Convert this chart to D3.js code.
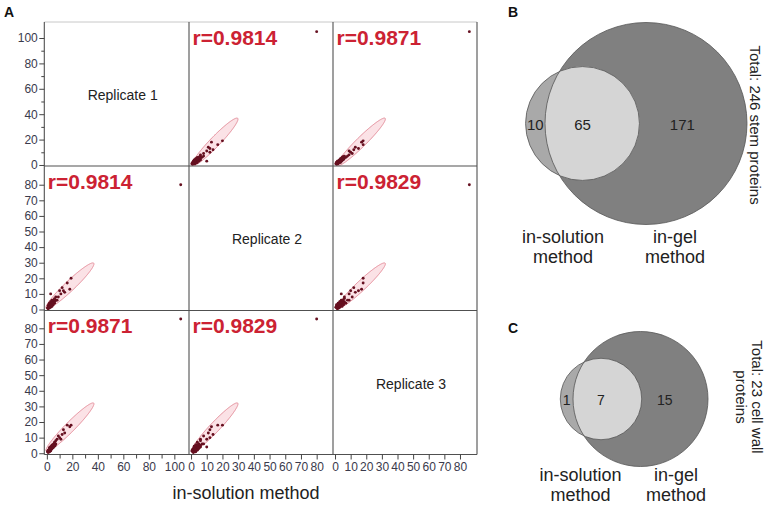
<!DOCTYPE html>
<html><head><meta charset="utf-8">
<script src="https://cdn.jsdelivr.net/npm/d3@7"></script>
<style>body{margin:0;background:#fff;} svg{display:block;font-family:"Liberation Sans",Arial,sans-serif;}</style>
</head><body><svg id="c" width="767" height="516"></svg>
<script>
// ---------- DATA ----------
const variables = ["Replicate 1", "Replicate 2", "Replicate 3"];
const rep1 = [105, 19, 16, 18, 3, 12, 14, 10, 9, 11, 7, 6, 5, 4, 3, 2, 2, 1, 1.5, 2.5, 3.5, 4.5, 5.5, 6.5, 1, 2, 3, 4, 5, 2, 3, 1, 2, 4, 3, 6, 8, 5, 2, 1, 3, 4, 0.5, 1.5, 2.5, 6, 4, 3.5, 5, 2, 4.5, 7, 13];
const rep2 = [80, 20, 17, 13, 10, 14, 11, 12, 8, 10, 6, 7, 4, 5, 3, 2, 3, 1, 2, 1.5, 4, 3, 5, 5.5, 2.5, 1, 2, 4.5, 6, 4, 1.5, 1.5, 2.5, 3.5, 5, 4, 6, 3, 3.5, 0.5, 2.5, 2, 1, 3, 2, 5, 6, 2.5, 4.5, 1.5, 4, 8, 12];
const rep3 = [86, 18, 18, 17, 4, 12, 13, 10, 11, 9, 8, 6, 5, 3, 4, 2, 1, 2, 1.5, 3, 2.5, 4, 6, 5, 1, 2.5, 3, 5, 4, 2, 2, 0.5, 3.5, 3, 3.5, 7, 9, 5.5, 2, 1.5, 1.5, 4.5, 1, 2, 2.5, 4.5, 5, 3, 3.5, 1, 5.5, 6, 15];
const correlations = [[1, 0.9814, 0.9871], [0.9814, 1, 0.9829], [0.9871, 0.9829, 1]];
const ellipseMeans = [18.1, 15.2, 16.7];
const ellipseSDs = [7.7, 6.0, 6.35];
const ellipseShapeR = [[1, 0.955, 0.96], [0.955, 1, 0.958], [0.96, 0.958, 1]];
const xDomains = [[-2, 111.5], [-1.3, 90.4], [-1.3, 90.9]];
const yDomains = [[-0.8, 112.6], [-0.64, 92], [-0.8, 91.4]];
const majorTicks = [[0, 20, 40, 60, 80, 100], [0, 10, 20, 30, 40, 50, 60, 70, 80], [0, 10, 20, 30, 40, 50, 60, 70, 80]];
const minorTicks = [[10, 30, 50, 70, 90], [], []];
const xAxisTitle = "in-solution method";

const vennSetNames = [["in-solution", "method"], ["in-gel", "method"]];
const vennBCounts = [10, 65, 171];   // in-solution only, both, in-gel only
const vennCCounts = [1, 7, 15];
const vennBTotal = ["Total: 246 stem proteins"];
const vennCTotal = ["Total: 23 cell wall", "proteins"];
const panelLetters = ["A", "B", "C"];

// ---------- LAYOUT ----------
const svg = d3.select("#c");
const colX = [44.3, 189, 333, 477];
const rowY = [22, 166, 310.5, 454.5];
const ptColor = "#661020";
const axisColor = "#3a3a4c";
const cChi = Math.sqrt(5.991);

const xScales = xDomains.map((d, j) => d3.scaleLinear().domain(d).range([colX[j], colX[j + 1]]));
const yScales = yDomains.map((d, i) => d3.scaleLinear().domain(d).range([rowY[i + 1], rowY[i]]));
const reps = [rep1, rep2, rep3];

const defs = svg.append("defs");

for (let i = 0; i < 3; i++) {
  for (let j = 0; j < 3; j++) {
    const x0 = colX[j], x1 = colX[j + 1], y0 = rowY[i], y1 = rowY[i + 1];
    if (i === j) {
      svg.append("text").attr("x", (x0 + x1) / 2 + 6).attr("y", (y0 + y1) / 2 + 1)
        .attr("text-anchor", "middle").attr("dominant-baseline", "central")
        .attr("font-size", 14).attr("fill", "#222").text(variables[i]);
      continue;
    }
    const id = "clip" + i + j;
    defs.append("clipPath").attr("id", id).append("rect")
      .attr("x", x0).attr("y", y0).attr("width", x1 - x0).attr("height", y1 - y0);
    const g = svg.append("g").attr("clip-path", `url(#${id})`);
    const xs = xScales[j], ys = yScales[i];
    const r = correlations[i][j];
    const re = ellipseShapeR[i][j];
    const mx = ellipseMeans[j], my = ellipseMeans[i], sx = ellipseSDs[j], sy = ellipseSDs[i];
    const pts = d3.range(0, 2 * Math.PI, Math.PI / 90).map(t => [
      xs(mx + cChi * sx * Math.cos(t)),
      ys(my + cChi * sy * (re * Math.cos(t) + Math.sqrt(1 - re * re) * Math.sin(t)))
    ]);
    g.append("path").attr("d", d3.line().curve(d3.curveLinearClosed)(pts))
      .attr("fill", "#f9d6db").attr("fill-opacity", 0.7)
      .attr("stroke", "#e48d9a").attr("stroke-width", 1);
    g.selectAll("circle.p").data(d3.range(rep1.length)).enter().append("circle")
      .attr("cx", k => xs(reps[j][k])).attr("cy", k => ys(reps[i][k]))
      .attr("r", 1.45).attr("fill", ptColor);
    svg.append("text").attr("x", x0 + 3.5).attr("y", y0 + 22.5)
      .attr("font-size", 21).attr("font-weight", "bold").attr("fill", "#cc2233")
      .text("r=" + r.toFixed(4));
  }
}

// frame
svg.append("line").attr("x1", colX[0]).attr("x2", colX[3]).attr("y1", rowY[0]).attr("y2", rowY[0])
  .attr("stroke", "#c8c8c8").attr("stroke-width", 1);
rowY.slice(1).forEach(y => svg.append("line").attr("x1", colX[0]).attr("x2", colX[3]).attr("y1", y).attr("y2", y)
  .attr("stroke", "#505050").attr("stroke-width", 1.1));
colX.forEach(x => svg.append("line").attr("x1", x).attr("x2", x).attr("y1", rowY[0]).attr("y2", rowY[3])
  .attr("stroke", "#505050").attr("stroke-width", 1.1));

// axes
function styleAxis(g) {
  g.select(".domain").remove();
  g.selectAll("line").attr("stroke", "#444");
  g.selectAll("text").attr("fill", axisColor).attr("font-size", 12).attr("font-family", '"Liberation Sans",Arial,sans-serif');
}
for (let i = 0; i < 3; i++) {
  const gy = svg.append("g").attr("transform", `translate(${colX[0]},0)`)
    .call(d3.axisLeft(yScales[i]).tickValues(majorTicks[i]).tickSize(5).tickPadding(1.5).tickFormat(d3.format("d")));
  styleAxis(gy);
  if (minorTicks[i].length) {
    const gm = svg.append("g").attr("transform", `translate(${colX[0]},0)`)
      .call(d3.axisLeft(yScales[i]).tickValues(minorTicks[i]).tickSize(3).tickFormat(""));
    styleAxis(gm);
  }
}
for (let j = 0; j < 3; j++) {
  const gx = svg.append("g").attr("transform", `translate(0,${rowY[3]})`)
    .call(d3.axisBottom(xScales[j]).tickValues(majorTicks[j]).tickSize(5).tickPadding(3).tickFormat(d3.format("d")));
  styleAxis(gx);
  if (minorTicks[j].length) {
    const gm = svg.append("g").attr("transform", `translate(0,${rowY[3]})`)
      .call(d3.axisBottom(xScales[j]).tickValues(minorTicks[j]).tickSize(4).tickFormat(""));
    styleAxis(gm);
  }
}
svg.append("text").attr("x", 246).attr("y", 499).attr("text-anchor", "middle")
  .attr("font-size", 18).attr("fill", "#222").text(xAxisTitle);

// panel letters
[[4, 17], [508, 17], [508, 333]].forEach((p, k) =>
  svg.append("text").attr("x", p[0]).attr("y", p[1]).attr("font-size", 14).attr("font-weight", "bold")
    .attr("fill", "#111").text(panelLetters[k]));

// ---------- VENN ----------
function drawVenn(opt) {
  const c = opt.counts;
  const solSize = c[0] + c[1], gelSize = c[1] + c[2];
  const rs = d3.scaleSqrt().domain([0, gelSize]).range([0, opt.rGel]);
  const rSol = rs(solSize), rGel = rs(gelSize);
  const sol = { x: opt.solX, y: opt.cy, r: rSol }, gel = { x: opt.gelX, y: opt.cy, r: rGel };
  const g = svg.append("g");
  const cid = "vclip" + opt.id;
  defs.append("clipPath").attr("id", cid).append("circle").attr("cx", gel.x).attr("cy", gel.y).attr("r", gel.r);
  g.append("circle").attr("cx", gel.x).attr("cy", gel.y).attr("r", gel.r).attr("fill", "#808080");
  g.append("circle").attr("cx", sol.x).attr("cy", sol.y).attr("r", sol.r).attr("fill", "#a9a9a9");
  g.append("circle").attr("cx", sol.x).attr("cy", sol.y).attr("r", sol.r).attr("fill", "#d5d5d5").attr("clip-path", `url(#${cid})`);
  [gel, sol].forEach(o => g.append("circle").attr("cx", o.x).attr("cy", o.y).attr("r", o.r)
    .attr("fill", "none").attr("stroke", "#555").attr("stroke-width", 0.8));
  const labX = [(sol.x - sol.r + gel.x - gel.r) / 2, sol.x, gel.x + 0.36 * gel.r];
  c.forEach((v, k) => g.append("text").attr("x", labX[k]).attr("y", opt.cy + 1)
    .attr("text-anchor", "middle").attr("dominant-baseline", "central")
    .attr("font-size", opt.fs).attr("fill", "#222").text(v));
  vennSetNames.forEach((lines, s) => lines.forEach((t, l) =>
    g.append("text").attr("x", opt.nameX[s]).attr("y", opt.nameY[l]).attr("text-anchor", "middle")
      .attr("font-size", 18).attr("fill", "#222").text(t)));
  opt.total.forEach((t, l) => g.append("text")
    .attr("transform", `translate(${opt.totalX[l]},${opt.totalY}) rotate(90)`)
    .attr("text-anchor", "middle").attr("font-size", 15).attr("fill", "#222").text(t));
}
drawVenn({ id: "B", counts: vennBCounts, solX: 582.5, gelX: 646, cy: 123.5, rGel: 101, fs: 15,
  nameX: [563, 675], nameY: [243, 263], total: vennBTotal, totalX: [750], totalY: 125 });
drawVenn({ id: "C", counts: vennCCounts, solX: 601, gelX: 640.5, cy: 399, rGel: 67.5, fs: 14,
  nameX: [580.5, 676], nameY: [481, 501], total: vennCTotal, totalX: [752, 736], totalY: 397 });
</script></body></html>
